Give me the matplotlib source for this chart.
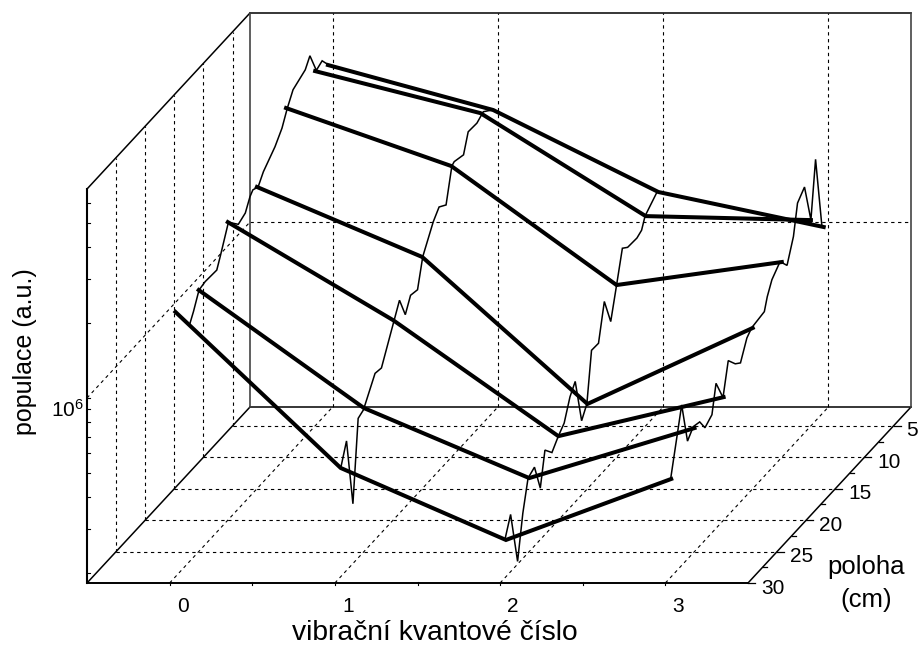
import numpy as np
import matplotlib
matplotlib.use("Agg")
import matplotlib.pyplot as plt

plt.rcParams['font.family'] = ['Liberation Sans', 'DejaVu Sans']
plt.rcParams['mathtext.fontset'] = 'custom'
plt.rcParams['mathtext.rm'] = 'Liberation Sans'
plt.rcParams['mathtext.default'] = 'regular'

# ---------- data: log10(population) along vibrational number at fixed position
levels = [0, 1, 2, 3]
pos_lines = [29, 25, 20, 15, 10, 5, 2.8]
thick_29 = [6.319, 5.695, 5.407, 5.651]
thick_25 = [6.306, 5.834, 5.554, 5.754]
thick_20 = [6.452, 6.060, 5.596, 5.752]
thick_15 = [6.467, 6.187, 5.599, 5.903]
thick_10 = [6.657, 6.425, 5.949, 6.041]
thick_05 = [6.679, 6.511, 6.099, 6.083]
thick_03 = [6.648, 6.468, 6.140, 6.000]

# ---------- data: log10(population) along position at fixed vibrational number
pos_v0 = [26.5, 25.9, 24.95, 23.9, 21.9, 21.3, 19.9, 18.2, 17.0, 16.2, 15.7, 14.8, 13.9,
          11.9, 10.7, 9.8, 8.8, 6.7, 5.9, 4.8, 3.8, 2.7]
pop_v0 = [6.211, 6.243, 6.305, 6.312, 6.308, 6.348, 6.449, 6.398, 6.413, 6.458, 6.473,
          6.462, 6.500, 6.55, 6.594, 6.650, 6.700, 6.727, 6.763, 6.677, 6.690, 6.646]
pos_v1 = [29.0, 28.0, 26.9, 26.0, 25.1, 23.1, 22.0, 19.8, 18.9, 17.9, 17.0, 15.8, 14.9,
          13.1, 12.1, 10.9, 9.9, 9.5, 7.9, 7.1, 5.6, 4.5, 2.8]
pop_v1 = [5.694, 5.778, 5.499, 5.818, 5.829, 5.925, 5.919, 6.056, 6.112, 6.029, 6.084,
          6.076, 6.186, 6.28, 6.314, 6.292, 6.423, 6.43, 6.417, 6.489, 6.486, 6.504, 6.469]
pos_v2 = [29.2, 28.2, 27.0, 26.1, 25.2, 24.1, 23.1, 22.3, 21.1, 20.0, 19.0, 18.0, 17.1,
          16.0, 15.1, 14.3, 13.1, 12.1, 11.0, 10.0, 9.0, 8.1, 6.5, 5.7, 5.1, 3.1]
pop_v2 = [5.411, 5.489, 5.271, 5.441, 5.559, 5.575, 5.466, 5.598, 5.558, 5.596, 5.623,
          5.703, 5.742, 5.557, 5.602, 5.796, 5.794, 5.936, 5.828, 5.948, 6.071, 6.052,
          6.049, 6.06, 6.102, 6.145]
pos_v3 = [29.1, 27.2, 26.2, 25.2, 24.1, 23.2, 22.0, 21.3, 20.1, 19.2, 18.0, 17.1, 16.0,
          15.2, 13.0, 12.5, 11.7, 10.3, 9.1, 8.0, 7.3, 6.1, 5.0, 4.2, 3.1]
pop_v3 = [5.653, 5.902, 5.732, 5.765, 5.756, 5.71, 5.732, 5.84, 5.753, 5.878, 5.835,
          5.816, 5.888, 5.908, 5.918, 5.965, 6.013, 6.05, 6.005, 6.093, 6.209, 6.243,
          6.084, 6.306, 6.008]

x_ticks = [0, 1, 2, 3]
y_ticks = [5, 10, 15, 20, 25, 30]
x_label = 'vibrační kvantové číslo'
z_label = 'populace (a.u.)'

# ---------- axes limits
XMIN, XMAX = -0.5, 3.5
YBACK, YFRONT = 2.0, 30.0
ZMIN, ZMAX = 6 - 185 / 250, 6 + 209 / 250


def proj(v, p, lz):
    """Oblique projection of the 3-D box on the figure."""
    v, p, lz = np.asarray(v, float), np.asarray(p, float), np.asarray(lz, float)
    depth = (YFRONT - p) / (YFRONT - YBACK)
    px = 87 + (v - XMIN) / (XMAX - XMIN) * 661 + depth * 163
    py = 583 - depth * 176 - (lz - ZMIN) * 250
    return px, py


fig = plt.figure(figsize=(9.22, 6.45), dpi=100)
ax = fig.add_axes([0, 0, 1, 1])
ax.set_xlim(0, 922)
ax.set_ylim(645, 0)
ax.axis('off')


def line3(v, p, lz, **kw):
    n = max(np.size(v), np.size(p), np.size(lz))
    px, py = proj(np.full(n, v) if np.size(v) == 1 else v,
                  np.full(n, p) if np.size(p) == 1 else p,
                  np.full(n, lz) if np.size(lz) == 1 else lz)
    ax.plot(px, py, **kw)


grid = dict(color='black', lw=0.8, dashes=(3, 3.2), zorder=1)
for v in x_ticks:
    line3(v, [YFRONT, YBACK], ZMIN, **grid)
    line3(v, YBACK, [ZMIN, ZMAX], **grid)
for p in y_ticks[:-1]:
    line3([XMIN, XMAX], p, ZMIN, **grid)
    line3(XMIN, p, [ZMIN, ZMAX], **grid)
line3(XMIN, [YFRONT, YBACK], 6, **grid)
line3([XMIN, XMAX], YBACK, 6, **grid)

frame = dict(color='black', lw=1.1, zorder=2, solid_capstyle='projecting')
line3([XMIN, XMAX], YFRONT, ZMIN, color='black', lw=1.4, zorder=2)
line3(XMIN, YFRONT, [ZMIN, ZMAX], color='black', lw=1.5, zorder=2)
line3(XMIN, [YFRONT, YBACK], ZMIN, **frame)
line3(XMAX, [YFRONT, YBACK], ZMIN, **frame)
line3([XMIN, XMAX], YBACK, ZMIN, **frame)
line3(XMIN, [YFRONT, YBACK], ZMAX, **frame)
line3([XMIN, XMAX], YBACK, ZMAX, **frame)
line3(XMIN, YBACK, [ZMIN, ZMAX], color='#444444', lw=1.2, zorder=2)
line3(XMAX, YBACK, [ZMIN, ZMAX], color='#444444', lw=1.2, zorder=2)

# ticks
for v in np.arange(0, 3.5, 0.5):
    x0, y0 = proj(v, YFRONT, ZMIN)
    ax.plot([x0, x0], [y0 - 1, y0 + 2], color='black', lw=0.8, zorder=2)
for p in np.arange(5, 30.1, 2.5):
    x0, y0 = proj(XMAX, p, ZMIN)
    ln = 7 if p % 5 == 0 else 4
    ax.plot([x0, x0 + ln], [y0, y0], color='black', lw=0.9, zorder=2)
for m in list(range(2, 10)):
    x0, y0 = proj(XMIN, YFRONT, 5 + np.log10(m))
    ax.plot([x0, x0 + 3], [y0, y0], color='black', lw=0.8, zorder=2)
for m in list(range(1, 7)):
    x0, y0 = proj(XMIN, YFRONT, 6 + np.log10(m))
    ax.plot([x0, x0 + 3], [y0, y0], color='black', lw=0.8, zorder=2)

# data
thin = dict(color='black', lw=1.1, zorder=3, solid_joinstyle='miter')
for v, pos, pop in zip(levels, [pos_v0, pos_v1, pos_v2, pos_v3],
                       [pop_v0, pop_v1, pop_v2, pop_v3]):
    line3(v, pos, pop, **thin)
for p, pop in zip(pos_lines, [thick_29, thick_25, thick_20, thick_15, thick_10,
                              thick_05, thick_03]):
    line3(levels, p, pop, color='black', lw=2.9, zorder=4, solid_joinstyle='miter')

# labels
FS = 15
for v in x_ticks:
    x0, y0 = proj(v, YFRONT, ZMIN)
    ax.text(x0 + 13, y0 + 24, str(v), ha='center', va='center', fontsize=FS)
for p in y_ticks:
    x0, y0 = proj(XMAX, p, ZMIN)
    ax.text(x0 + 13, y0 + 5, str(p), ha='left', va='center', fontsize=FS)
ax.text(51, 410, r'$10^{6}$', ha='left', va='center', fontsize=FS)
ax.text(435, 633, x_label, ha='center', va='center', fontsize=20.3)
ax.text(25, 352, z_label, rotation=90, ha='center', va='center', fontsize=18)
ax.text(866, 567, 'poloha', ha='center', va='center', fontsize=18.5)
ax.text(866, 600, '(cm)', ha='center', va='center', fontsize=18.5)

fig.savefig('out.png', dpi=100)
